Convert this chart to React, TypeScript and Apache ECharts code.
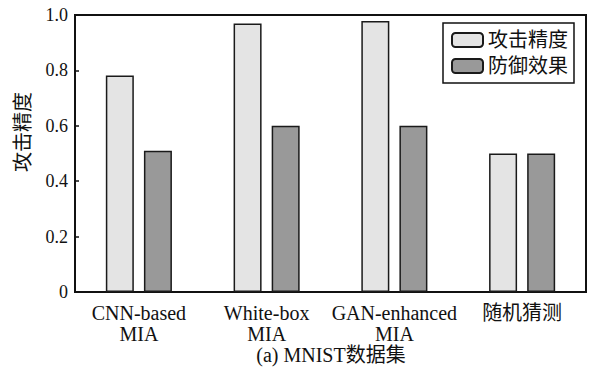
import React, { useEffect, useRef } from "react";
import * as echarts from "echarts";

const categories = ["CNN-based\nMIA", "White-box\nMIA", "GAN-enhanced\nMIA", "随机猜测"];
const attackAccuracy = [0.782, 0.969, 0.978, 0.5];
const defenseEffect = [0.51, 0.6, 0.6, 0.5];
const yTicks = [0, 0.2, 0.4, 0.6, 0.8, 1.0];

const FONT = "Liberation Serif, Noto Sans CJK SC, serif";

export default function App() {
  const ref = useRef<HTMLDivElement>(null);
  useEffect(() => {
    if (!ref.current) return;
    const chart = echarts.init(ref.current, undefined, { renderer: "svg" });
    chart.setOption({
      animation: false,
      backgroundColor: "#ffffff",
      textStyle: { fontFamily: FONT },
      grid: {
        left: 75,
        right: 3,
        top: 15,
        bottom: 75,
        show: true,
        borderColor: "#111",
        borderWidth: 2,
        backgroundColor: "transparent",
      },
      legend: {
        right: 15,
        top: 23,
        orient: "vertical",
        itemWidth: 31,
        itemHeight: 14,
        itemGap: 6,
        padding: [7, 6, 7, 8],
        borderColor: "#111",
        borderWidth: 1.5,
        backgroundColor: "#fff",
        textStyle: { fontFamily: FONT, fontSize: 20, color: "#111" },
        data: ["攻击精度", "防御效果"],
      },
      xAxis: {
        type: "category",
        data: categories,
        axisLine: { lineStyle: { color: "#111", width: 2 } },
        axisTick: { show: false },
        axisLabel: {
          fontFamily: FONT,
          fontSize: 20,
          color: "#111",
          margin: 10,
          lineHeight: 21,
          interval: 0,
        },
      },
      yAxis: {
        type: "value",
        min: 0,
        max: 1,
        interval: 0.2,
        splitLine: { show: false },
        axisLine: { show: true, lineStyle: { color: "#111", width: 2 } },
        axisTick: { show: true, inside: true, length: 4, lineStyle: { color: "#111", width: 1.5 } },
        axisLabel: {
          fontFamily: FONT,
          fontSize: 18,
          color: "#111",
          margin: 7,
          formatter: (v: number) => {
            const t = yTicks.find((x) => Math.abs(x - v) < 1e-6);
            if (t === undefined) return "";
            return t === 0 ? "0" : t.toFixed(1);
          },
        },
      },
      graphic: [
        {
          type: "text",
          x: 23,
          y: 132,
          rotation: Math.PI / 2,
          style: {
            text: "攻击精度",
            fontFamily: FONT,
            fontSize: 20,
            fill: "#111",
            textAlign: "center",
            textVerticalAlign: "middle",
          },
        },
        {
          type: "text",
          x: 331,
          y: 355,
          style: {
            text: "(a) MNIST数据集",
            fontFamily: FONT,
            fontSize: 20,
            fill: "#111",
            textAlign: "center",
            textVerticalAlign: "middle",
          },
        },
      ],
      series: [
        {
          name: "攻击精度",
          type: "bar",
          data: attackAccuracy,
          barWidth: 28,
          barGap: "36%",
          itemStyle: { color: "#e4e4e4", borderColor: "#1a1a1a", borderWidth: 1.5 },
        },
        {
          name: "防御效果",
          type: "bar",
          data: defenseEffect,
          barWidth: 28,
          barGap: "36%",
          itemStyle: { color: "#999999", borderColor: "#1a1a1a", borderWidth: 1.5 },
        },
      ],
    });
    return () => chart.dispose();
  }, []);
  return <div ref={ref} style={{ width: 589, height: 367, position: "absolute", left: 0, top: 0 }} />;
}
